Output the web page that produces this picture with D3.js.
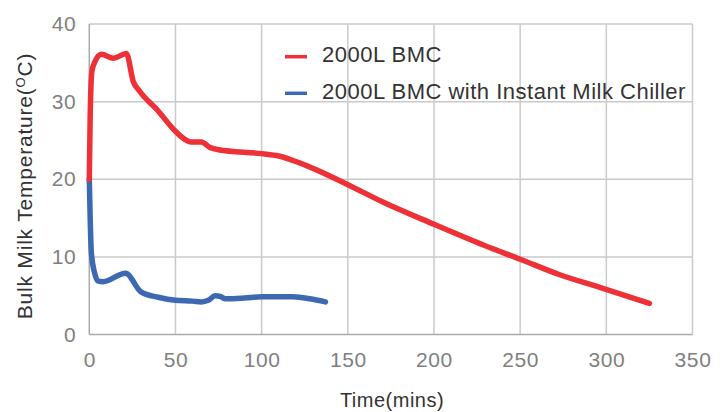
<!DOCTYPE html>
<html><head><meta charset="utf-8">
<script src="https://cdn.jsdelivr.net/npm/d3@7/dist/d3.min.js"></script>
<style>
body{margin:0;background:#fff;}
svg{display:block;font-family:"Liberation Sans",Arial,sans-serif;}
</style></head>
<body>
<svg id="chart" width="722" height="412"></svg>
<script>
// ---- data ----
const seriesNames = ["2000L BMC", "2000L BMC with Instant Milk Chiller"];
const seriesColors = ["#EE3136", "#3D69B3"];
const bmcTime = [0, 0.5, 1.5, 3, 7, 14, 21.5, 25.5, 29, 40, 49, 55, 59, 65, 70, 75, 100, 110, 122, 150, 170, 200, 229, 250, 273, 298, 325];
const bmcTemp = [20, 28, 33.9, 35, 36.1, 35.6, 36.2, 32.6, 31.4, 28.8, 26.4, 25.2, 24.8, 24.8, 24.1, 23.8, 23.3, 23.0, 22.1, 19.3, 17.1, 14.2, 11.5, 9.7, 7.7, 5.95, 4.0];
const chillerTime = [0, 0.5, 1.2, 3, 5, 8, 21, 30, 40, 50, 60, 65, 69, 73, 76, 79, 90, 100, 118, 128, 137];
const chillerTemp = [20, 15, 10.5, 8, 6.9, 6.8, 7.9, 5.5, 4.8, 4.4, 4.3, 4.2, 4.4, 5.0, 4.9, 4.6, 4.7, 4.85, 4.85, 4.6, 4.2];
const xTicks = [0, 50, 100, 150, 200, 250, 300, 350];
const yTicks = [0, 10, 20, 30, 40];
const xTitle = "Time(mins)";
const yTitle = "Bulk Milk Temperature(";

// ---- layout ----
const svg = d3.select("#chart");
const x = d3.scaleLinear().domain([0, 350]).range([89.3, 692.5]);
const y = d3.scaleLinear().domain([0, 40]).range([334.5, 24]);

// gridlines
const grid = svg.append("g");
grid.selectAll("line.v").data(xTicks.filter(d => d > 0)).join("line")
  .attr("x1", d => x(d)).attr("x2", d => x(d))
  .attr("y1", y(40)).attr("y2", y(0))
  .attr("stroke", "#cacaca").attr("stroke-width", 1.5);
grid.selectAll("line.h").data(yTicks.filter(d => d > 0)).join("line")
  .attr("x1", x(0)).attr("x2", x(350))
  .attr("y1", d => y(d)).attr("y2", d => y(d))
  .attr("stroke", "#cacaca").attr("stroke-width", 1.5);
// axis lines
svg.append("line").attr("x1", x(0)).attr("x2", x(0)).attr("y1", y(40)).attr("y2", y(0))
  .attr("stroke", "#aaaaaa").attr("stroke-width", 1.5);
svg.append("line").attr("x1", x(0)).attr("x2", x(350)).attr("y1", y(0)).attr("y2", y(0))
  .attr("stroke", "#aaaaaa").attr("stroke-width", 1.5);

// axes labels via d3 axes (no domain / ticks lines)
const xAxis = svg.append("g").attr("transform", `translate(0,${y(0)})`)
  .call(d3.axisBottom(x).tickValues(xTicks).tickSize(0).tickPadding(18).tickFormat(d3.format("d")));
const yAxis = svg.append("g").attr("transform", `translate(${x(0)},0)`)
  .call(d3.axisLeft(y).tickValues(yTicks).tickSize(0).tickPadding(13).tickFormat(d3.format("d")));
[xAxis, yAxis].forEach(a => {
  a.select(".domain").remove();
  a.selectAll("text").attr("fill", "#7f7f7f").style("font-size", "21px")
    .style("font-family", '"Liberation Sans",Arial,sans-serif').style("letter-spacing", "0.6px");
});

// titles
svg.append("text").attr("x", 392).attr("y", 407).attr("text-anchor", "middle")
  .attr("fill", "#333").style("font-size", "20px").style("letter-spacing", "0.5px").text(xTitle);
const yt = svg.append("text").attr("transform", "translate(32,186) rotate(-90)")
  .attr("text-anchor", "middle").attr("fill", "#333").style("font-size", "21px").style("letter-spacing", "0.8px");
yt.append("tspan").text(yTitle);
yt.append("tspan").attr("dy", -7).style("font-size", "13px").text("O");
yt.append("tspan").attr("dy", 7).text("C)");

// lines
const line = d3.line().x(d => x(d[0])).y(d => y(d[1])).curve(d3.curveMonotoneX);
const bmc = bmcTime.map((t, i) => [t, bmcTemp[i]]);
const chill = chillerTime.map((t, i) => [t, chillerTemp[i]]);
svg.append("path").datum(chill).attr("d", line).attr("fill", "none")
  .attr("stroke", seriesColors[1]).attr("stroke-width", 5.5)
  .attr("stroke-linecap", "round").attr("stroke-linejoin", "round");
svg.append("path").datum(bmc).attr("d", line).attr("fill", "none")
  .attr("stroke", seriesColors[0]).attr("stroke-width", 5.5)
  .attr("stroke-linecap", "round").attr("stroke-linejoin", "round");

// legend
const leg = svg.append("g");
seriesNames.forEach((n, i) => {
  const yy = 56.7 + i * 36.6;
  leg.append("line").attr("x1", 285).attr("x2", 307).attr("y1", yy).attr("y2", yy)
    .attr("stroke", seriesColors[i]).attr("stroke-width", 3.5);
  leg.append("text").attr("x", 322).attr("y", yy + 5.2).attr("fill", "#333")
    .style("font-size", "22px").style("letter-spacing", "0.5px").text(n);
});
</script>
</body></html>
